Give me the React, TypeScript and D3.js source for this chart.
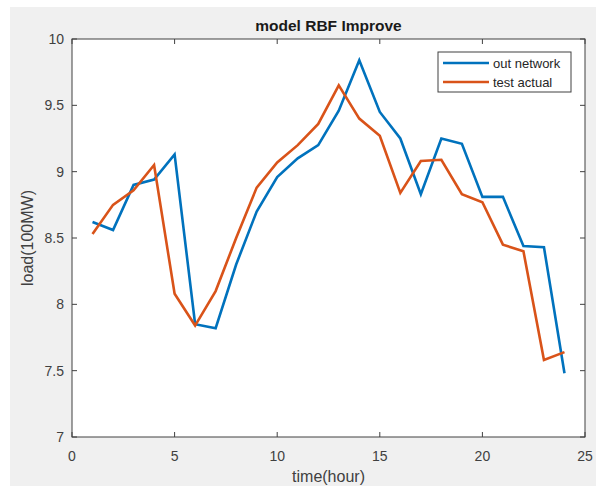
import React from "react";
import * as d3 from "d3";

const hours = [1,2,3,4,5,6,7,8,9,10,11,12,13,14,15,16,17,18,19,20,21,22,23,24];
const outNetwork = [8.62,8.56,8.9,8.94,9.13,7.85,7.82,8.3,8.7,8.96,9.1,9.2,9.46,9.84,9.45,9.25,8.83,9.25,9.21,8.81,8.81,8.44,8.43,7.48];
const testActual = [8.53,8.75,8.86,9.05,8.08,7.84,8.1,8.5,8.88,9.07,9.2,9.36,9.65,9.4,9.27,8.84,9.08,9.09,8.83,8.77,8.45,8.4,7.58,7.64];
const xTicks = [0,5,10,15,20,25];
const yTicks = [7,7.5,8,8.5,9,9.5,10];
const seriesNames = ["out network","test actual"];
const colors = ["#0072BD","#D95319"];

export default function App() {
  const W = 596, H = 486;
  const L = 72, R = 585, T = 39, B = 437;
  const x = d3.scaleLinear().domain([0,25]).range([L,R]);
  const y = d3.scaleLinear().domain([7,10]).range([B,T]);
  const line = d3.line<number>().x((_, i) => x(hours[i])).y(d => y(d));
  const series = [outNetwork, testActual];
  const font = "'Liberation Sans', Arial, sans-serif";
  const tickCol = "#404040";
  return (
    <svg width={W} height={H} style={{position:"absolute",left:0,top:0}} fontFamily={font}>
      <rect x={0} y={0} width={W} height={H} fill="#ffffff"/>
      <rect x={10} y={7} width={W-10} height={H-7} fill="#f0f0f0"/>
      <rect x={L} y={T} width={R-L} height={B-T} fill="#ffffff"/>
      <text x={(L+R)/2} y={31} textAnchor="middle" fontWeight="bold" fontSize={15.5} fill="#1a1a1a">model RBF Improve</text>
      {series.map((s, k) => (
        <path key={k} d={line(s) || ""} fill="none" stroke={colors[k]} strokeWidth={2.6} strokeLinejoin="miter"/>
      ))}
      {xTicks.map(t => (
        <g key={"x"+t}>
          <line x1={x(t)} x2={x(t)} y1={B} y2={B-5} stroke={tickCol}/>
          <line x1={x(t)} x2={x(t)} y1={T} y2={T+5} stroke={tickCol}/>
          <text x={x(t)} y={461} textAnchor="middle" fontSize={14} fill={tickCol}>{t}</text>
        </g>
      ))}
      {yTicks.map(t => (
        <g key={"y"+t}>
          <line x1={L} x2={L+5} y1={y(t)} y2={y(t)} stroke={tickCol}/>
          <line x1={R} x2={R-5} y1={y(t)} y2={y(t)} stroke={tickCol}/>
          <text x={64} y={y(t)+5} textAnchor="end" fontSize={14} fill={tickCol}>{t}</text>
        </g>
      ))}
      <rect x={L} y={T} width={R-L} height={B-T} fill="none" stroke={tickCol} strokeWidth={1}/>
      <text x={(L+R)/2} y={482} textAnchor="middle" fontSize={16} fill={tickCol}>time(hour)</text>
      <text transform={`translate(33,${(T+B)/2}) rotate(-90)`} textAnchor="middle" fontSize={16} fill={tickCol}>load(100MW)</text>
      <g>
        <rect x={438} y={52} width={133} height={40} fill="#ffffff" stroke={tickCol} strokeWidth={1}/>
        {seriesNames.map((n, k) => (
          <g key={n}>
            <line x1={443} x2={489} y1={63+k*19} y2={63+k*19} stroke={colors[k]} strokeWidth={2.6}/>
            <text x={493} y={67.5+k*19} fontSize={13} fill="#262626">{n}</text>
          </g>
        ))}
      </g>
    </svg>
  );
}
